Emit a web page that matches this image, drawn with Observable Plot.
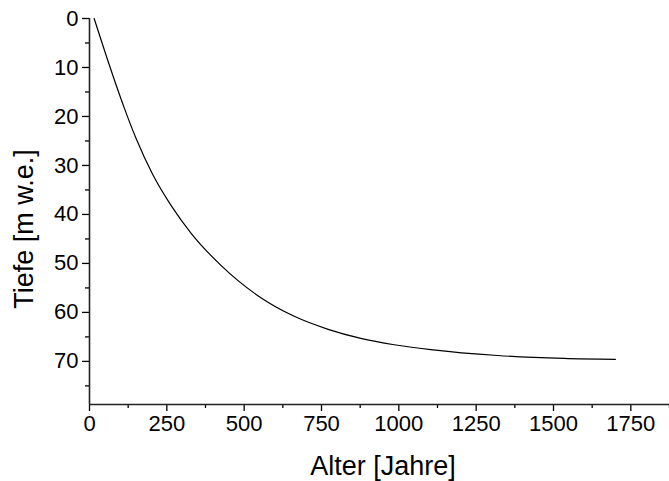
<!DOCTYPE html>
<html>
<head>
<meta charset="utf-8">
<script src="https://cdn.jsdelivr.net/npm/d3@7"></script>
<script src="https://cdn.jsdelivr.net/npm/@observablehq/plot@0.6"></script>
<style>
  html, body { margin: 0; padding: 0; background: #fff; }
  #chart svg { display: block; }
  #chart g[aria-label="x-axis tick label"], #chart g[aria-label="y-axis tick label"] { font-size: 22px; }
</style>
</head>
<body>
<div id="chart"></div>
<script>
// Data
const alter = [15, 52, 90, 112, 150, 204, 263, 328, 425, 554, 662, 769, 877, 985, 1103, 1319, 1534, 1700];
const tiefe = [0, 7.2, 14.3, 18.2, 24.4, 31.8, 38.1, 43.8, 50.4, 57.0, 60.8, 63.4, 65.3, 66.6, 67.6, 68.8, 69.4, 69.6];

const xMajorTicks = [0, 250, 500, 750, 1000, 1250, 1500, 1750];
const xMinorTicks = [125, 375, 625, 875, 1125, 1375, 1625, 1875];
const yMajorTicks = [0, 10, 20, 30, 40, 50, 60, 70];
const yMinorTicks = [5, 15, 25, 35, 45, 55, 65, 75];

const xTitle = "Alter [Jahre]";
const yTitle = "Tiefe [m w.e.]";

const data = alter.map((a, i) => ({alter: a, tiefe: tiefe[i]}));

const W = 669, H = 481;
const mLeft = 89, mRight = 0, mTop = 18, mBottom = 77;
const FONT = "'Liberation Sans', Arial, sans-serif";

const chart = Plot.plot({
  width: W,
  height: H,
  marginLeft: mLeft,
  marginRight: mRight,
  marginTop: mTop,
  marginBottom: mBottom,
  style: {fontFamily: FONT, color: "#000", background: "#fff"},
  x: {domain: [0, 1875]},
  y: {domain: [0, 78.8], reverse: true},
  marks: [
    Plot.axisX({ticks: xMajorTicks, tickSize: 7, tickPadding: 4, fontSize: 22, label: null, strokeWidth: 1.3, tickFormat: d => String(d)}),
    Plot.axisX({ticks: xMinorTicks, tickSize: 4, label: null, text: null, strokeWidth: 1.3}),
    Plot.axisY({ticks: yMajorTicks, tickSize: 7, tickPadding: 4, fontSize: 22, label: null, strokeWidth: 1.3, tickFormat: d => String(d)}),
    Plot.axisY({ticks: yMinorTicks, tickSize: 4, label: null, text: null, strokeWidth: 1.3}),
    Plot.ruleX([0], {stroke: "#222", strokeWidth: 1.6}),
    Plot.ruleY([78.8], {stroke: "#222", strokeWidth: 1.6}),
    Plot.line(data, {x: "alter", y: "tiefe", stroke: "#000", strokeWidth: 1.2, curve: "monotone-x"})
  ]
});

const svg = d3.select(chart);
svg.selectAll('g[aria-label="x-axis tick label"], g[aria-label="y-axis tick label"]')
  .attr("font-size", 22).style("font-size", "22px");
svg.append("text")
  .attr("x", 383)
  .attr("y", 475)
  .attr("text-anchor", "middle")
  .attr("font-size", 27)
  .attr("font-family", FONT)
  .attr("fill", "#000")
  .text(xTitle);
svg.append("text")
  .attr("transform", "translate(33,229) rotate(-90)")
  .attr("text-anchor", "middle")
  .attr("font-size", 27)
  .attr("font-family", FONT)
  .attr("fill", "#000")
  .text(yTitle);

document.getElementById("chart").appendChild(chart);
</script>
</body>
</html>
